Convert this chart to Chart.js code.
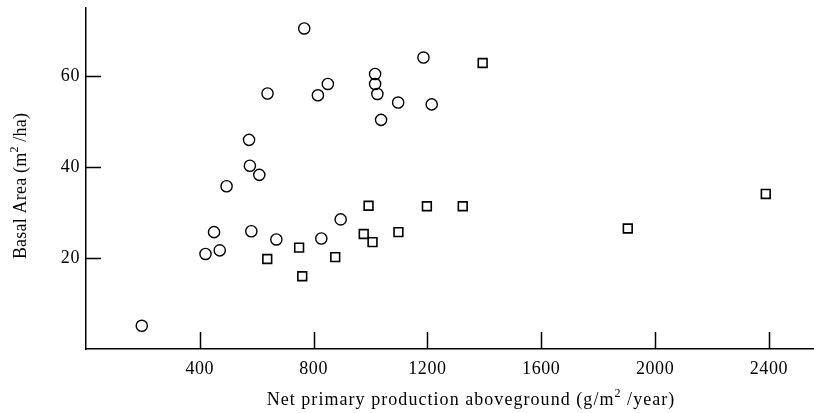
<!DOCTYPE html>
<html><head><meta charset="utf-8">
<script src="https://cdn.jsdelivr.net/npm/chart.js@4"></script>
<style>html,body{margin:0;padding:0;background:#fff}#wrap{width:814px;height:413px;position:relative}</style>
</head><body><div id="wrap"><canvas id="c" width="814" height="413"></canvas></div>
<script>
// Circles series
const circleX = [196, 420, 450, 470, 581, 669, 827, 895, 494, 573, 576, 609, 638, 767, 815, 850, 1016, 1016, 1024, 1037, 1097, 1186, 1215];
const circleY = [5.1, 20.9, 25.7, 21.7, 25.9, 24.1, 24.3, 28.5, 35.8, 46.0, 40.3, 38.3, 56.2, 70.5, 55.8, 58.3, 60.5, 58.3, 56.1, 50.4, 54.2, 64.1, 53.8];
// Squares series
const squareX = [993, 976, 1007, 1098, 749, 637, 876, 760, 1198, 1324, 1904, 1394, 2389];
const squareY = [31.5, 25.3, 23.5, 25.7, 22.3, 19.8, 20.2, 16.0, 31.4, 31.4, 26.5, 62.9, 34.1];
// Tick labels
const xTicks = [400, 800, 1200, 1600, 2000, 2400];
const yTicks = [20, 40, 60];
const xTitle = ['Net primary production aboveground (g/m', '2', ' /year)'];
const yTitle = ['Basal Area (m', '2', ' /ha)'];

const FONT = '"Liberation Serif", "Times New Roman", serif';

function drawSupText(ctx, parts, x, y, size, spacing) {
  ctx.letterSpacing = spacing + 'px';
  ctx.font = size + 'px ' + FONT;
  const w0 = ctx.measureText(parts[0]).width;
  const w2 = ctx.measureText(parts[2]).width;
  ctx.font = Math.round(size * 0.65) + 'px ' + FONT;
  const w1 = ctx.measureText(parts[1]).width;
  const total = w0 + w1 + w2;
  let cx = x - total / 2;
  ctx.textAlign = 'left';
  ctx.textBaseline = 'alphabetic';
  ctx.font = size + 'px ' + FONT;
  ctx.fillText(parts[0], cx, y); cx += w0;
  ctx.font = Math.round(size * 0.65) + 'px ' + FONT;
  ctx.fillText(parts[1], cx, y - size * 0.42); cx += w1;
  ctx.font = size + 'px ' + FONT;
  ctx.fillText(parts[2], cx, y);
}

const inwardTicks = {
  id: 'inwardTicks',
  beforeDraw(chart) { chart.ctx.letterSpacing = '0.6px'; },
  afterDraw(chart) {
    const ctx = chart.ctx;
    const xs = chart.scales.x, ys = chart.scales.y;
    const ca = chart.chartArea;
    ctx.save();
    ctx.strokeStyle = '#000';
    ctx.lineWidth = 1.5;
    xTicks.forEach(v => {
      const px = Math.round(xs.getPixelForValue(v)) + 0.5;
      ctx.beginPath(); ctx.moveTo(px, ca.bottom); ctx.lineTo(px, ca.bottom - 17); ctx.stroke();
    });
    yTicks.forEach(v => {
      const py = Math.round(ys.getPixelForValue(v)) + 0.5;
      ctx.beginPath(); ctx.moveTo(ca.left, py); ctx.lineTo(ca.left + 15, py); ctx.stroke();
    });
    ctx.fillStyle = '#000';
    drawSupText(ctx, xTitle, 471, 405, 18, 1.05);
    ctx.translate(26, 186);
    ctx.rotate(-Math.PI / 2);
    drawSupText(ctx, yTitle, 0, 0, 18, 0.2);
    ctx.restore();
  }
};

new Chart(document.getElementById('c'), {
  type: 'scatter',
  data: {
    datasets: [
      {
        label: 'circles',
        data: circleX.map((x, i) => ({ x, y: circleY[i] })),
        pointStyle: 'circle', pointRadius: 5.6, pointBorderWidth: 1.4,
        borderColor: '#000', backgroundColor: 'rgba(255,255,255,0)'
      },
      {
        label: 'squares',
        data: squareX.map((x, i) => ({ x, y: squareY[i] })),
        pointStyle: 'rect', pointRadius: 6.2, pointBorderWidth: 1.6,
        borderColor: '#000', backgroundColor: 'rgba(255,255,255,0)'
      }
    ]
  },
  options: {
    responsive: false,
    animation: false,
    events: [],
    layout: { autoPadding: false, padding: { left: 0, right: 1, top: 8, bottom: 0 } },
    plugins: { legend: { display: false }, tooltip: { enabled: false } },
    scales: {
      x: {
        type: 'linear', min: 0, max: 2555,
        grid: { display: false, drawTicks: false },
        border: { display: true, color: '#000', width: 1.5 },
        afterBuildTicks: s => { s.ticks = xTicks.map(v => ({ value: v })); },
        afterFit: s => { s.height = 64; s.paddingRight = 0; s.paddingLeft = 0; },
        ticks: { color: '#000', padding: 9, font: { family: FONT, size: 18 }, callback: v => String(v) }
      },
      y: {
        type: 'linear', min: 0, max: 75,
        grid: { display: false, drawTicks: false },
        border: { display: true, color: '#000', width: 1.5 },
        afterBuildTicks: s => { s.ticks = yTicks.map(v => ({ value: v })); },
        afterFit: s => { s.width = 86; s.paddingTop = 0; s.paddingBottom = 0; },
        ticks: { color: '#000', padding: 6, font: { family: FONT, size: 18 }, callback: v => String(v) }
      }
    }
  },
  plugins: [inwardTicks]
});
</script>
</body></html>
